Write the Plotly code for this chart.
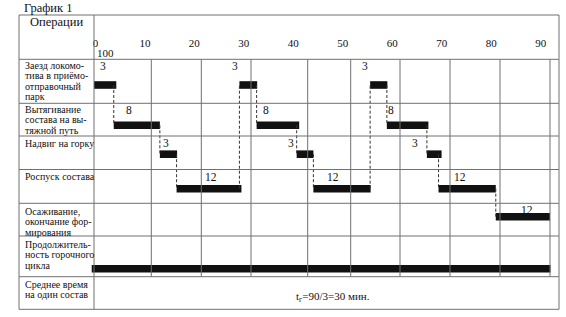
import plotly.graph_objects as go

# ---------------- data (minutes) ----------------
ROW_LABELS = [
    ["Заезд локомо-", "тива в приёмо-", "отправочный", "парк"],
    ["Вытягивание", "состава на вы-", "тяжной путь"],
    ["Надвиг на горку"],
    ["Роспуск состава"],
    ["Осаживание,", "окончание фор-", "мирования"],
    ["Продолжитель-", "ность горочного", "цикла"],
    ["Среднее время", "на один состав"],
]
HEADER = "Операции"
TITLE = "График 1"

ARRIVE_START = [0.0, 28.7, 54.5]
ARRIVE_END = [4.4, 32.2, 57.9]
PULL_START = [3.9, 32.1, 57.8]
PULL_END = [13.0, 40.5, 66.0]
PUSH_START = [13.0, 40.0, 65.7]
PUSH_END = [16.4, 43.3, 68.6]
DISSOLVE_START = [16.3, 43.3, 68.0]
DISSOLVE_END = [29.1, 54.6, 79.3]
SETTLE_START = [79.3]
SETTLE_END = [90.0]
CYCLE_START = [-0.45]
CYCLE_END = [90.1]

ARRIVE_LABEL = ["3", "3", "3"]
PULL_LABEL = ["8", "8", "8"]
PUSH_LABEL = ["3", "3", "3"]
DISSOLVE_LABEL = ["12", "12", "12"]
SETTLE_LABEL = ["12"]

# where the duration numbers are written (minutes)
ARRIVE_LABEL_AT = [1.8, 27.8, 53.5]
PULL_LABEL_AT = [6.9, 34.0, 58.6]
PUSH_LABEL_AT = [14.2, 38.9, 63.4]
DISSOLVE_LABEL_AT = [23.1, 47.2, 72.2]
SETTLE_LABEL_AT = [85.4]

TICK_VALUES = [0, 10, 20, 30, 40, 50, 60, 70, 80, 90]
TICK_LABELS = ["0", "10", "20", "30", "40", "50", "60", "70", "80", "90"]
EXTRA_TICK_TEXT = "100"
SUMMARY = "t<sub>г</sub>=90/3=30 мин."

# ---------------- layout constants (pixels) ----------------
W, H = 566, 317
X0_PX, PX_PER_MIN = 94.0, 5.0667          # bar scale
T0_PX, T_PX_PER_MIN = 95.4, 4.948          # printed scale in the header
ROW_BAR_Y = [85, 125.3, 154.2, 188.7, 216.8, 268.8]
LABEL_Y = [66, 110, 143.3, 177.3, 210]
BAR_W = 7.6
ROW_TEXT_Y0 = [65, 109.3, 143.3, 176, 211, 244.3, 284.3]
LINE_H = 10.6
H_LINES = [15, 59.3, 103.3, 136, 169.5, 203.3, 236, 276.7, 309.3]
V_GRID = [151.3, 201.3, 251, 307.7, 350.7, 400, 450, 500, 550]
LEFT, DIV, RIGHT = 19, 94, 559
FONT = "Liberation Serif, Times New Roman, serif"
INK = "#111111"
GRID_C = "#707070"

fig = go.Figure()

rows = [
    (ARRIVE_START, ARRIVE_END),
    (PULL_START, PULL_END),
    (PUSH_START, PUSH_END),
    (DISSOLVE_START, DISSOLVE_END),
    (SETTLE_START, SETTLE_END),
    (CYCLE_START, CYCLE_END),
]

# dashed connectors: each step starts where the previous one ended
seq = []
for c in range(3):
    for r in range(4):
        seq.append((r, rows[r][0][c]))
seq.append((4, SETTLE_START[0]))
cx, cy = [], []
for (r_prev, _), (r_next, s_next) in zip(seq[:-1], seq[1:]):
    cx += [s_next, s_next, None]
    cy += [ROW_BAR_Y[r_prev], ROW_BAR_Y[r_next], None]
fig.add_trace(go.Scatter(x=cx, y=cy, mode="lines",
                         line=dict(color="#333333", width=1, dash="3px,2px"),
                         hoverinfo="skip", showlegend=False))

for i, (st, en) in enumerate(rows):
    fig.add_trace(go.Bar(
        orientation="h", base=st, x=[e - s for s, e in zip(st, en)],
        y=[ROW_BAR_Y[i]] * len(st), width=BAR_W,
        marker=dict(color=INK, line=dict(width=0)),
        hoverinfo="skip", showlegend=False))

# invisible trace for the printed scale axis
fig.add_trace(go.Scatter(x=[TICK_VALUES[0], TICK_VALUES[-1]], y=[None, None],
                         xaxis="x2", yaxis="y", mode="lines",
                         hoverinfo="skip", showlegend=False))

shapes = []
for y in H_LINES:
    shapes.append(dict(type="line", xref="paper", yref="y",
                       x0=LEFT / W, x1=RIGHT / W, y0=y, y1=y,
                       line=dict(color=GRID_C, width=1)))
for x in [LEFT, DIV, RIGHT]:
    shapes.append(dict(type="line", xref="paper", yref="y",
                       x0=x / W, x1=x / W, y0=H_LINES[0], y1=H_LINES[-1],
                       line=dict(color=GRID_C, width=1)))
for x in V_GRID:
    shapes.append(dict(type="line", xref="paper", yref="y",
                       x0=x / W, x1=x / W, y0=H_LINES[1], y1=H_LINES[-2],
                       line=dict(color=GRID_C, width=1)))

ann = []
ann.append(dict(text=TITLE, xref="paper", yref="y", x=22 / W, y=8,
                xanchor="left", yanchor="middle", showarrow=False,
                font=dict(family=FONT, size=12.5, color=INK)))
ann.append(dict(text=HEADER, xref="paper", yref="y", x=56.5 / W, y=21.7,
                xanchor="center", yanchor="middle", showarrow=False,
                font=dict(family=FONT, size=12.5, color=INK)))
ann.append(dict(text=EXTRA_TICK_TEXT, xref="x2", yref="y", x=TICK_VALUES[0],
                y=53.3, xanchor="left", yanchor="middle", xshift=-0.5,
                showarrow=False, font=dict(family=FONT, size=11, color=INK)))
for r, lines in enumerate(ROW_LABELS):
    for j, t in enumerate(lines):
        ann.append(dict(text=t, xref="paper", yref="y", x=23 / W,
                        y=ROW_TEXT_Y0[r] + j * LINE_H,
                        xanchor="left", yanchor="middle", showarrow=False,
                        font=dict(family=FONT, size=10, color=INK)))
label_sets = [
    (ARRIVE_LABEL, ARRIVE_LABEL_AT),
    (PULL_LABEL, PULL_LABEL_AT),
    (PUSH_LABEL, PUSH_LABEL_AT),
    (DISSOLVE_LABEL, DISSOLVE_LABEL_AT),
    (SETTLE_LABEL, SETTLE_LABEL_AT),
]
for r, (labs, ats) in enumerate(label_sets):
    for t, xm in zip(labs, ats):
        ann.append(dict(text=t, xref="x", yref="y", x=xm, y=LABEL_Y[r],
                        xanchor="center", yanchor="middle", showarrow=False,
                        font=dict(family=FONT, size=11.5, color=INK)))
ann.append(dict(text=SUMMARY, xref="paper", yref="y", x=333 / W, y=296.7,
                xanchor="center", yanchor="middle", showarrow=False,
                font=dict(family=FONT, size=11, color=INK)))

fig.update_layout(
    width=W, height=H, margin=dict(l=0, r=0, t=0, b=0),
    paper_bgcolor="white", plot_bgcolor="white",
    showlegend=False, barmode="overlay",
    xaxis=dict(domain=[0, 1], range=[-X0_PX / PX_PER_MIN, (W - X0_PX) / PX_PER_MIN],
               visible=False, fixedrange=True),
    xaxis2=dict(overlaying="x", side="top", anchor="free", position=1 - 49 / H,
                range=[-T0_PX / T_PX_PER_MIN, (W - T0_PX) / T_PX_PER_MIN],
                tickvals=TICK_VALUES, ticktext=TICK_LABELS, ticks="",
                showgrid=False, showline=False, zeroline=False,
                tickfont=dict(family=FONT, size=11, color=INK)),
    yaxis=dict(domain=[0, 1], range=[H, 0], visible=False, fixedrange=True),
    shapes=shapes, annotations=ann,
)

fig.write_html("out.html")
